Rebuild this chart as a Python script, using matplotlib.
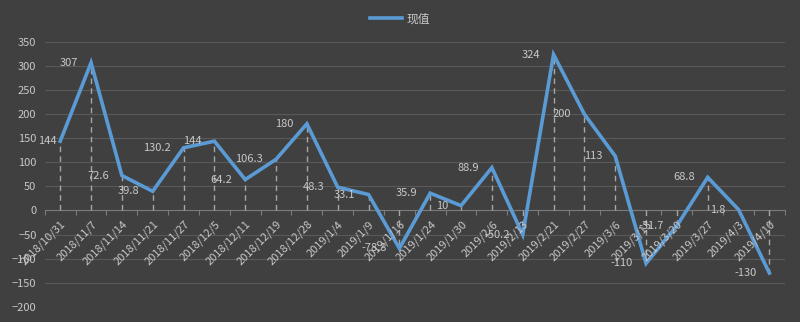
import matplotlib
matplotlib.use("Agg")
import matplotlib.pyplot as plt
from matplotlib.ticker import MultipleLocator, FixedLocator, NullFormatter

plt.rcParams['font.family'] = ['Noto Sans CJK SC', 'DejaVu Sans']

dates = ["2018/10/31", "2018/11/7", "2018/11/14", "2018/11/21", "2018/11/27",
         "2018/12/5", "2018/12/11", "2018/12/19", "2018/12/28", "2019/1/4",
         "2019/1/9", "2019/1/16", "2019/1/24", "2019/1/30", "2019/2/6",
         "2019/2/13", "2019/2/21", "2019/2/27", "2019/3/6", "2019/3/13",
         "2019/3/20", "2019/3/27", "2019/4/3", "2019/4/10"]
values = [144, 307, 72.6, 39.8, 130.2, 144, 64.2, 106.3, 180, 48.3,
          33.1, -78.8, 35.9, 10, 88.9, -50.2, 324, 200, 113, -110,
          -31.7, 68.8, 1.8, -130]
series_name = "现值"

BG = "#404040"
GRID = "#595959"
TXT = "#c8c8c8"
LINE = "#5b9bd5"

fig = plt.figure(figsize=(8, 3.22), dpi=100, facecolor=BG)
ax = fig.add_axes([0.056, 0.0475, 0.925, 0.822])
ax.set_facecolor(BG)

x = list(range(len(values)))
ax.vlines(x, 0, values, colors="#a6a6a6", linestyles=(0, (4, 3)), linewidth=1, zorder=2)
ax.plot(x, values, color=LINE, linewidth=2.6, label=series_name, zorder=3,
        solid_joinstyle="miter")

for i, v in enumerate(values):
    off = -4 if i == 0 else -13
    ax.annotate(f"{v:g}", (i, v), xytext=(off, 0), textcoords="offset pixels",
                ha="right", va="center", fontsize=8, color=TXT, zorder=4)

for i, d in enumerate(dates):
    ax.annotate(d, (i, 0), xytext=(4, -12), textcoords="offset pixels",
                ha="right", va="center", rotation=45, rotation_mode="anchor",
                fontsize=8, color=TXT, zorder=4)

ax.set_xlim(-0.5, len(values) - 0.5)
ax.set_ylim(-200, 350)
ax.yaxis.set_major_locator(MultipleLocator(50))
ax.grid(axis="y", color=GRID, linewidth=0.8, zorder=0)
ax.set_axisbelow(True)

for s in ["top", "right", "left"]:
    ax.spines[s].set_visible(False)
ax.spines["bottom"].set_position(("data", 0))
ax.spines["bottom"].set_color("#7a7a7a")
ax.spines["bottom"].set_linewidth(0.8)
ax.spines["bottom"].set_zorder(1)

ax.xaxis.set_major_locator(FixedLocator([]))
ax.xaxis.set_minor_locator(FixedLocator([i - 0.5 for i in range(len(values) + 1)]))
ax.xaxis.set_minor_formatter(NullFormatter())
ax.tick_params(axis="x", which="minor", direction="out", length=3.5, color="#7a7a7a", width=0.8)
ax.tick_params(axis="y", length=0, labelsize=8, labelcolor=TXT, pad=6)

fig.legend(loc="center", bbox_to_anchor=(0.5, 1 - 19 / 322), frameon=False,
           fontsize=8.5, labelcolor=TXT, handlelength=2.7, handletextpad=0.4)

fig.savefig("out.png", dpi=100, facecolor=BG)
